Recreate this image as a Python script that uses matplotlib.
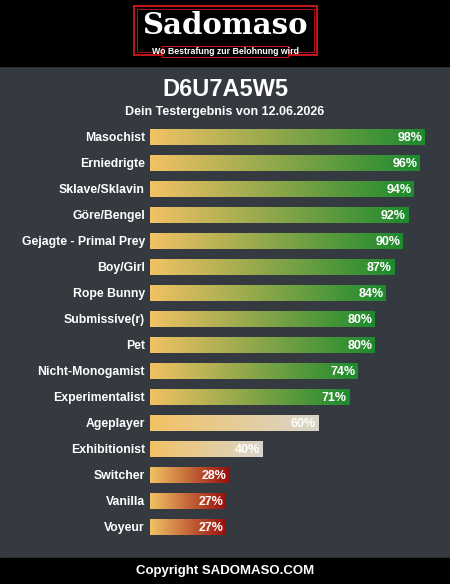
import numpy as np
import matplotlib
matplotlib.use("Agg")
import matplotlib.pyplot as plt
from matplotlib.colors import LinearSegmentedColormap
from matplotlib.patches import Rectangle

plt.rcParams['font.family'] = ['Liberation Sans', 'DejaVu Sans']

# --- data ---
labels = ['Masochist', 'Erniedrigte', 'Sklave/Sklavin', 'Göre/Bengel',
          'Gejagte - Primal Prey', 'Boy/Girl', 'Rope Bunny', 'Submissive(r)',
          'Pet', 'Nicht-Monogamist', 'Experimentalist', 'Ageplayer',
          'Exhibitionist', 'Switcher', 'Vanilla', 'Voyeur']
values = [98, 96, 94, 92, 90, 87, 84, 80, 80, 74, 71, 60, 40, 28, 27, 27]
title = 'D6U7A5W5'
subtitle = 'Dein Testergebnis von 12.06.2026'

W, H = 450, 584
bg = '#353940'
start_col = '#f2c264'
end_cols = {'high': '#1d8a2e', 'mid': '#d9d5cb', 'low': '#980f0f'}

fig = plt.figure(figsize=(W / 100, H / 100), dpi=100)
fig.patch.set_facecolor(bg)

# background / header / footer in pixel coords
deco = fig.add_axes([0, 0, 1, 1])
deco.set_xlim(0, W)
deco.set_ylim(H, 0)
deco.axis('off')
deco.add_patch(Rectangle((0, 0), W, 66, color='black'))
deco.add_patch(Rectangle((0, 558), W, 26, color='black'))

# logo frame
deco.add_patch(Rectangle((134, 6), 183, 49, fill=False, ec='#c4161c', lw=1.4))
deco.add_patch(Rectangle((137, 9), 177, 43, fill=False, ec='#c4161c', lw=0.6))
deco.text(225, 25, 'Sadomaso', color='white', fontsize=21, fontweight='bold',
          family='DejaVu Serif', ha='center', va='center')
deco.add_patch(Rectangle((162, 46), 126, 11, color='black', ec='#c4161c', lw=0.8))
deco.text(225, 51.5, 'Wo Bestrafung zur Belohnung wird', color='white',
          fontsize=6.3, fontweight='bold', ha='center', va='center')

deco.text(225, 90, title, color='white', fontsize=17, fontweight='bold',
          ha='center', va='center')
deco.text(225, 112, subtitle, color='white', fontsize=9, fontweight='bold',
          ha='center', va='center')
deco.text(225, 571, 'Copyright SADOMASO.COM', color='white', fontsize=9.5,
          fontweight='bold', ha='center', va='center')

# bar axes
x0, x1 = 150, 430.6
y_top, y_bot = 124, 540
ax = fig.add_axes([x0 / W, 1 - y_bot / H, (x1 - x0) / W, (y_bot - y_top) / H])
ax.set_xlim(0, 100)
ax.set_ylim(len(values) - 0.5, -0.5)
ax.axis('off')

grad = np.linspace(0, 1, 256).reshape(1, -1)
bars = ax.barh(range(len(values)), values, height=0.65, color='none')
for i, (bar, v) in enumerate(zip(bars, values)):
    kind = 'high' if v >= 70 else ('mid' if v >= 40 else 'low')
    cmap = LinearSegmentedColormap.from_list(kind, [start_col, end_cols[kind]])
    yb, h = bar.get_y(), bar.get_height()
    im = ax.imshow(grad, cmap=cmap, aspect='auto',
                   extent=(0, v, yb + h, yb), zorder=2)
    im.set_clip_path(bar)
    ax.text(v - 0.8, i + 0.03, f'{v}%', color='white', fontsize=9,
            fontweight='bold', ha='right', va='center', zorder=3)
    ax.text(-1.8, i + 0.03, labels[i], color='white', fontsize=8.8,
            fontweight='bold', ha='right', va='center', clip_on=False)

ax.set_xlim(0, 100)
ax.set_ylim(len(values) - 0.5, -0.5)

fig.savefig('out.png', dpi=100, facecolor=fig.get_facecolor())
